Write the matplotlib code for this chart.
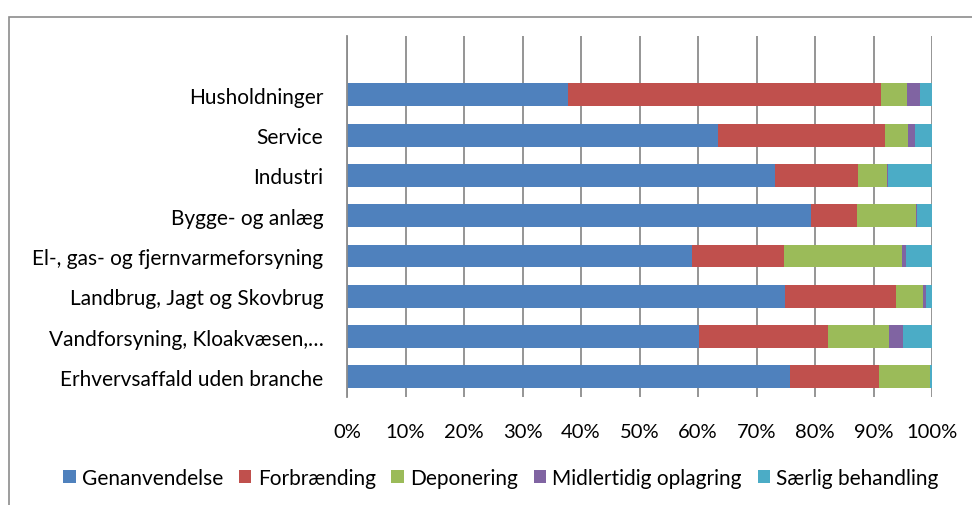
import matplotlib
matplotlib.use("Agg")
import matplotlib.pyplot as plt
from matplotlib.patches import Rectangle
from matplotlib.ticker import FuncFormatter
import numpy as np

plt.rcParams['font.family'] = ['Lato', 'DejaVu Sans']

categories = ["Husholdninger", "Service", "Industri", "Bygge- og anlæg",
              "El-, gas- og fjernvarmeforsyning", "Landbrug, Jagt og Skovbrug",
              "Vandforsyning, Kloakvæsen,…", "Erhvervsaffald uden branche"]
series_names = ["Genanvendelse", "Forbrænding", "Deponering",
                "Midlertidig oplagring", "Særlig behandling"]
genanvendelse = [37.7, 63.4, 73.2, 79.4, 58.9, 74.9, 60.2, 75.7]
forbraending = [53.5, 28.5, 14.1, 7.7, 15.8, 18.9, 22.0, 15.3]
deponering = [4.5, 4.0, 5.0, 10.1, 20.1, 4.6, 10.4, 8.6]
midlertidig = [2.2, 1.2, 0.2, 0.3, 0.8, 0.5, 2.4, 0.0]
saerlig = [2.1, 2.9, 7.5, 2.5, 4.4, 1.1, 5.0, 0.4]
xticks = [0, 10, 20, 30, 40, 50, 60, 70, 80, 90, 100]

colors = ["#4F81BD", "#C0504D", "#9BBB59", "#8064A2", "#4BACC6"]

fig = plt.figure(figsize=(9.72, 5.06), dpi=100)
fig.patches.append(Rectangle((9/972, -0.1), 1.1, 1 - 18/506 + 0.1,
                             transform=fig.transFigure, fill=False,
                             edgecolor="#8c8c8c", linewidth=1.2))
ax = fig.add_axes([347/972, 1 - 398/506, (932 - 347)/972, (398 - 37)/506])

data = [genanvendelse, forbraending, deponering, midlertidig, saerlig]
n = len(categories)
y = np.arange(n)[::-1]
left = np.zeros(n)
total = np.array([sum(d[i] for d in data) for i in range(n)])
for vals, name, c in zip(data, series_names, colors):
    v = np.array(vals, dtype=float) / total * 100
    ax.barh(y, v, left=left, height=0.57, color=c, label=name, zorder=3)
    left += v

ax.set_xlim(0, 100)
ax.set_ylim(-0.5, 8.46)
ax.set_xticks(xticks)
ax.xaxis.set_major_formatter(FuncFormatter(lambda v, p: f"{int(v)}%"))
ax.set_yticks(y)
ax.set_yticklabels(categories, fontsize=15)
ax.tick_params(axis='x', labelsize=14.5, length=0, pad=19)
ax.tick_params(axis='y', length=0, pad=17)
ax.grid(axis='x', color="#8c8c8c", linewidth=1.3, zorder=0)
for s in ["top", "right", "bottom"]:
    ax.spines[s].set_visible(False)
ax.spines["left"].set_color("#8c8c8c")
ax.spines["left"].set_linewidth(1.3)
ax.spines["left"].set_zorder(4)

fig.legend(loc="center", bbox_to_anchor=(501/972, 1 - 479/506), ncol=5,
           frameon=False, fontsize=15, handlelength=0.6, handleheight=0.6,
           handletextpad=0.3, columnspacing=0.75)

fig.savefig("out.png", dpi=100)
